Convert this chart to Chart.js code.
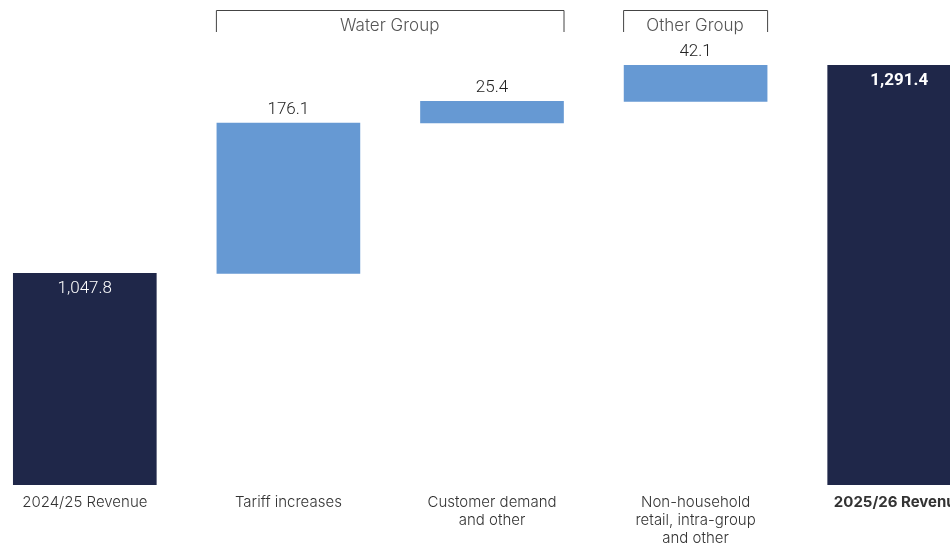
<!DOCTYPE html>
<html>
<head>
<meta charset="utf-8">
<script src="https://cdn.jsdelivr.net/npm/chart.js@4.4.1/dist/chart.umd.min.js"></script>
<style>
  html, body { margin: 0; padding: 0; background: #fff; overflow: hidden; width: 950px; height: 543px; }
  #wrap { position: absolute; left: -17px; top: 0; width: 1018px; height: 543px; }
</style>
</head>
<body>
<div id="wrap"><canvas id="myChart" width="1018" height="543"></canvas></div>
<script>
// dados do gráfico
const categorias = [
  ['2024/25 Revenue'],
  ['Tariff increases'],
  ['Customer demand', 'and other'],
  ['Non-household', 'retail, intra-group', 'and other'],
  ['2025/26 Revenue']
];
const valores = [1047.8, 176.1, 25.4, 42.1, 1291.4];
const tipos = ['total', 'delta', 'delta', 'delta', 'total'];
const grupos = [
  { nome: 'Water Group', de: 1, ate: 2 },
  { nome: 'Other Group', de: 3, ate: 3 }
];
const Y_MIN = 800;
const Y_MAX = 1368;

const NAVY = '#1f2749';
const AZUL = '#6699d3';

// monta barras flutuantes (waterfall)
let acumulado = 0;
const barras = valores.map((v, i) => {
  if (tipos[i] === 'total') {
    acumulado = v;
    return [Y_MIN, v];
  }
  const ini = acumulado;
  acumulado += v;
  return [ini, acumulado];
});
const cores = tipos.map(t => t === 'total' ? NAVY : AZUL);

function fmt(v) {
  return v.toLocaleString('en-GB', { minimumFractionDigits: 1, maximumFractionDigits: 1 });
}

const FONTE = 'Roboto, "Noto Sans", sans-serif';
const FONTE_EIXO = 'Inter, Roboto, sans-serif';

const rotulosPlugin = {
  id: 'rotulos',
  afterDatasetsDraw(chart) {
    const ctx = chart.ctx;
    const meta = chart.getDatasetMeta(0);
    ctx.save();
    ctx.textAlign = 'center';
    meta.data.forEach((bar, i) => {
      const top = Math.min(bar.y, bar.base);
      if (tipos[i] === 'total') {
        ctx.fillStyle = '#ffffff';
        ctx.font = (i === 4 ? 'bold ' : '300 ') + '17px ' + FONTE;
        ctx.textBaseline = 'top';
        ctx.fillText(fmt(valores[i]), bar.x, top + 7);
      } else {
        ctx.fillStyle = '#222222';
        ctx.font = '300 17px ' + FONTE;
        ctx.textBaseline = 'bottom';
        ctx.fillText(fmt(valores[i]), bar.x, top - 5);
      }
    });

    // colchetes dos grupos
    grupos.forEach(g => {
      const a = meta.data[g.de], b = meta.data[g.ate];
      const x1 = a.x - a.width / 2 - 1;
      const x2 = b.x + b.width / 2;
      ctx.strokeStyle = '#444444';
      ctx.lineWidth = 1;
      ctx.beginPath();
      ctx.moveTo(x1 + 0.5, 32);
      ctx.lineTo(x1 + 0.5, 10.5);
      ctx.lineTo(x2 + 0.5, 10.5);
      ctx.lineTo(x2 + 0.5, 32);
      ctx.stroke();
      ctx.fillStyle = '#555555';
      ctx.font = '300 17px ' + FONTE_EIXO;
      ctx.textBaseline = 'middle';
      ctx.fillText(g.nome, (x1 + x2) / 2, 26);
    });
    ctx.restore();
  }
};

const ctx = document.getElementById('myChart').getContext('2d');
new Chart(ctx, {
  type: 'bar',
  data: {
    labels: categorias,
    datasets: [{
      data: barras,
      backgroundColor: cores,
      borderWidth: 0,
      barThickness: 143
    }]
  },
  options: {
    responsive: false,
    animation: false,
    layout: { padding: 0 },
    plugins: {
      legend: { display: false },
      tooltip: { enabled: false }
    },
    scales: {
      x: {
        grid: { display: false, drawTicks: false },
        border: { display: false },
        ticks: {
          padding: 8,
          color: '#333333',
          maxRotation: 0,
          autoSkip: false,
          font: c => ({ family: FONTE_EIXO, size: 15, weight: c.index === 4 ? 'bold' : '300', lineHeight: 1.2 })
        },
        afterFit: s => { s.height = 58; }
      },
      y: {
        display: false,
        min: Y_MIN,
        max: Y_MAX
      }
    }
  },
  plugins: [rotulosPlugin]
});
</script>
</body>
</html>
